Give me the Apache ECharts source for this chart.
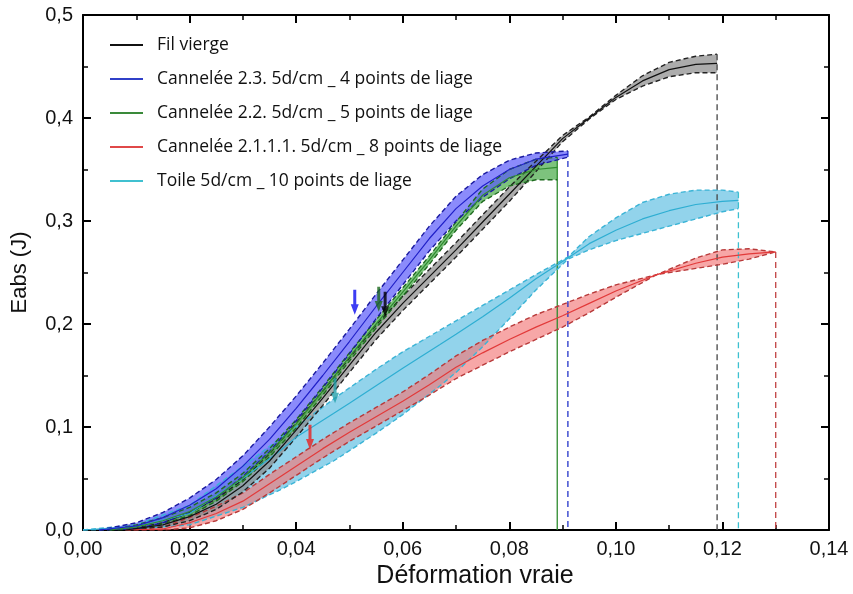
<!DOCTYPE html>
<html><head><meta charset="utf-8">
<script src="https://cdn.jsdelivr.net/npm/echarts/dist/echarts.min.js"></script>
<style>html,body{margin:0;padding:0;background:#fff}#c{width:853px;height:594px}</style>
</head><body><div id="c"></div>
<script>
// ---- Data ----
const legendNames = [
  'Fil vierge',
  'Cannelée 2.3. 5d/cm _ 4 points de liage',
  'Cannelée 2.2. 5d/cm _ 5 points de liage',
  'Cannelée 2.1.1.1. 5d/cm _ 8 points de liage',
  'Toile 5d/cm _ 10 points de liage'
];

const blackX     = [0.008,0.015,0.02,0.025,0.03,0.035,0.04,0.045,0.05,0.055,0.06,0.065,0.07,0.075,0.08,0.085,0.09,0.095,0.1,0.105,0.11,0.115,0.119];
const blackMean  = [0,0.005,0.013,0.025,0.043,0.067,0.097,0.128,0.16,0.192,0.22,0.246,0.272,0.299,0.326,0.353,0.38,0.4,0.42,0.436,0.447,0.452,0.453];
const blackUpper = [0,0.007,0.017,0.030,0.049,0.074,0.104,0.135,0.167,0.199,0.227,0.253,0.279,0.306,0.333,0.358,0.383,0.401,0.422,0.441,0.454,0.460,0.462];
const blackLower = [0,0.003,0.009,0.020,0.037,0.060,0.090,0.121,0.153,0.185,0.213,0.239,0.265,0.292,0.319,0.348,0.377,0.399,0.418,0.431,0.440,0.444,0.444];

const blueX     = [0.003,0.01,0.015,0.02,0.025,0.03,0.035,0.04,0.045,0.05,0.055,0.06,0.065,0.07,0.075,0.08,0.085,0.091];
const blueMean  = [0,0.004,0.012,0.024,0.04,0.062,0.088,0.118,0.15,0.183,0.217,0.25,0.283,0.312,0.334,0.35,0.36,0.365];
const blueUpper = [0,0.007,0.017,0.031,0.049,0.072,0.1,0.13,0.162,0.195,0.229,0.262,0.295,0.324,0.345,0.359,0.366,0.368];
const blueLower = [0,0.001,0.007,0.017,0.031,0.052,0.076,0.106,0.138,0.171,0.205,0.238,0.271,0.300,0.323,0.341,0.354,0.362];

const greenX     = [0.005,0.01,0.015,0.02,0.025,0.03,0.035,0.04,0.045,0.05,0.055,0.06,0.065,0.07,0.075,0.08,0.085,0.089];
const greenMean  = [0,0.003,0.009,0.018,0.032,0.051,0.075,0.103,0.135,0.168,0.2,0.231,0.262,0.295,0.325,0.342,0.35,0.352];
const greenUpper = [0,0.005,0.012,0.022,0.036,0.055,0.079,0.107,0.139,0.172,0.204,0.235,0.266,0.299,0.331,0.35,0.36,0.362];
const greenLower = [0,0.001,0.006,0.014,0.028,0.047,0.071,0.099,0.131,0.164,0.196,0.227,0.258,0.291,0.319,0.334,0.34,0.34];

const redX     = [0.008,0.015,0.02,0.025,0.03,0.035,0.04,0.045,0.05,0.055,0.06,0.065,0.07,0.075,0.08,0.085,0.09,0.095,0.1,0.1077,0.115,0.12,0.125,0.13];
const redMean  = [0,0.001,0.007,0.016,0.028,0.045,0.062,0.079,0.095,0.11,0.125,0.141,0.158,0.172,0.185,0.197,0.208,0.22,0.232,0.248,0.259,0.265,0.268,0.27];
const redUpper = [0,0.003,0.012,0.023,0.036,0.054,0.071,0.088,0.104,0.119,0.134,0.151,0.169,0.184,0.197,0.209,0.219,0.229,0.238,0.248,0.264,0.272,0.273,0.27];
const redLower = [0,0,0.002,0.009,0.020,0.036,0.053,0.070,0.086,0.101,0.116,0.131,0.147,0.160,0.173,0.185,0.197,0.211,0.226,0.248,0.254,0.258,0.263,0.27];

const cyanX     = [0,0.01,0.02,0.03,0.037,0.04,0.047,0.05,0.055,0.06,0.067,0.07,0.075,0.08,0.085,0.091,0.095,0.1,0.105,0.11,0.115,0.12,0.123];
const cyanMean  = [0,0.003,0.016,0.05,0.077,0.09,0.113,0.123,0.14,0.157,0.18,0.19,0.207,0.225,0.244,0.264,0.278,0.291,0.302,0.31,0.316,0.319,0.32];
const cyanUpper = [0,0.005,0.024,0.062,0.089,0.1,0.127,0.138,0.156,0.173,0.194,0.203,0.218,0.233,0.248,0.265,0.285,0.303,0.318,0.326,0.33,0.33,0.328];
const cyanLower = [0,0.001,0.005,0.022,0.039,0.047,0.067,0.077,0.094,0.112,0.14,0.153,0.178,0.205,0.233,0.263,0.272,0.281,0.288,0.295,0.302,0.309,0.312];

const arrowX = [0.051, 0.0555, 0.0567, 0.0473, 0.0426];
const arrowY = [0.209, 0.212, 0.207, 0.123, 0.078];

// ---- Styles ----
const groups = [
  {name: legendNames[4], x: cyanX,  m: cyanMean,  u: cyanUpper,  l: cyanLower,
   line:'#2eaed2', fill:'rgba(110,196,228,0.75)', dash:'#3bb4d6', drop:'#3cc0d0', dropType:'dashed'},
  {name: legendNames[3], x: redX,   m: redMean,   u: redUpper,   l: redLower,
   line:'#e23a3a', fill:'rgba(242,120,120,0.65)', dash:'#b83a3a', drop:'#c04040', dropType:'dashed'},
  {name: legendNames[0], x: blackX, m: blackMean, u: blackUpper, l: blackLower,
   line:'#111111', fill:'rgba(140,140,140,0.72)', dash:'#222222', drop:'#444444', dropType:'dashed'},
  {name: legendNames[2], x: greenX, m: greenMean, u: greenUpper, l: greenLower,
   line:'#2e8b2e', fill:'rgba(70,170,70,0.7)', dash:'#1f6b1f', drop:'#2e8b2e', dropType:'solid'},
  {name: legendNames[1], x: blueX,  m: blueMean,  u: blueUpper,  l: blueLower,
   line:'#2020c8', fill:'rgba(90,90,250,0.7)', dash:'#1a1aa0', drop:'#2233c8', dropType:'dashed'}
];
const arrowColors = ['#0c0cf0', '#1d6a1d', '#000000', '#23a0aa', '#e82020'];

function pairs(xs, ys){ return xs.map((x,i)=>[x, ys[i]]); }

const series = [];
groups.forEach((g, gi) => {
  series.push({
    type:'custom', coordinateSystem:'cartesian2d', silent:true, z:1+gi,
    data:[[g.x[0], g.l[0]]],
    renderItem:(params, api)=>{
      const pts=[];
      for(let i=0;i<g.x.length;i++) pts.push(api.coord([g.x[i], g.u[i]]));
      for(let i=g.x.length-1;i>=0;i--) pts.push(api.coord([g.x[i], g.l[i]]));
      return {type:'polygon', shape:{points:pts}, style:{fill:g.fill, stroke:null}};
    }
  });
});
groups.forEach((g, gi) => {
  const last = g.x.length-1;
  series.push({type:'line', name:'up'+gi, data:pairs(g.x,g.u), symbol:'none', silent:true, z:10,
    lineStyle:{color:g.dash, width:1.4, type:[5,3]}});
  series.push({type:'line', name:'lo'+gi, data:pairs(g.x,g.l), symbol:'none', silent:true, z:10,
    lineStyle:{color:g.dash, width:1.4, type:[5,3]}});
  series.push({type:'line', name:'drop'+gi, data:[[g.x[last], g.u[last]],[g.x[last], 0]], symbol:'none', silent:true, z:9,
    lineStyle:{color:g.drop, width:1.3, type: g.dropType==='dashed' ? [6,4] : 'solid'}});
  series.push({type:'line', name:g.name, data:pairs(g.x,g.m), symbol:'none', silent:true, z:11,
    color:g.line, lineStyle:{color:g.line, width:1.2}});
});
series.push({
  type:'scatter', silent:true, z:20,
  symbol:'path://M2.5,0 L5.5,0 L5.5,15 L8,15 L4,26 L0,15 L2.5,15 Z',
  symbolSize:[8,25], symbolOffset:[0,-12.5],
  data: arrowX.map((x,i)=>({value:[x, arrowY[i]], itemStyle:{color:arrowColors[i]}}))
});

const legendColors = {};
legendColors[legendNames[0]] = '#111111';
legendColors[legendNames[1]] = '#3040c8';
legendColors[legendNames[2]] = '#3a8a3a';
legendColors[legendNames[3]] = '#e04848';
legendColors[legendNames[4]] = '#40c0d0';

const axisFont = {fontFamily:'Liberation Sans, Arial, sans-serif', fontSize:20, color:'#111'};
const common = {
  axisLine:{show:true, onZero:false, lineStyle:{color:'#000', width:2}},
  axisTick:{show:true, inside:true, length:8, lineStyle:{color:'#000', width:2}},
  minorTick:{show:true, splitNumber:2, length:5, lineStyle:{color:'#000', width:1.5}},
  splitLine:{show:false}, minorSplitLine:{show:false}
};

const option = {
  animation:false,
  backgroundColor:'#fff',
  grid:{left:83, right:24, top:15, bottom:64, containLabel:false},
  legend:{
    orient:'vertical', left:110, top:35, padding:0, itemGap:14,
    icon:'rect', itemWidth:33, itemHeight:2,
    data: legendNames.map(n=>({name:n, itemStyle:{color:legendColors[n]}})),
    textStyle:{fontFamily:'Open Sans, sans-serif', fontSize:17.5, color:'#111', lineHeight:20, padding:[0,0,0,9]},
    selectedMode:false
  },
  xAxis:[
    Object.assign({type:'value', min:0, max:0.14, interval:0.02, position:'bottom',
      name:'Déformation vraie', nameLocation:'middle', nameGap:33,
      nameTextStyle:{fontFamily:'Liberation Sans, Arial, sans-serif', fontSize:25, color:'#111', padding:[0,0,0,38]},
      axisLabel:Object.assign({margin:9, formatter:v=>v.toFixed(2).replace('.',',')}, axisFont)}, common),
    Object.assign({type:'value', min:0, max:0.14, interval:0.02, position:'top', axisLabel:{show:false}}, common)
  ],
  yAxis:[
    Object.assign({type:'value', min:0, max:0.5, interval:0.1, position:'left',
      name:'Eabs (J)', nameLocation:'middle', nameGap:52,
      nameTextStyle:{fontFamily:'Liberation Sans, Arial, sans-serif', fontSize:22, color:'#111'},
      axisLabel:Object.assign({margin:10, formatter:v=>v.toFixed(1).replace('.',',')}, axisFont)}, common),
    Object.assign({type:'value', min:0, max:0.5, interval:0.1, position:'right', axisLabel:{show:false}}, common)
  ],
  series: series
};

const chart = echarts.init(document.getElementById('c'), null, {renderer:'canvas'});
chart.setOption(option);
</script>
</body></html>
